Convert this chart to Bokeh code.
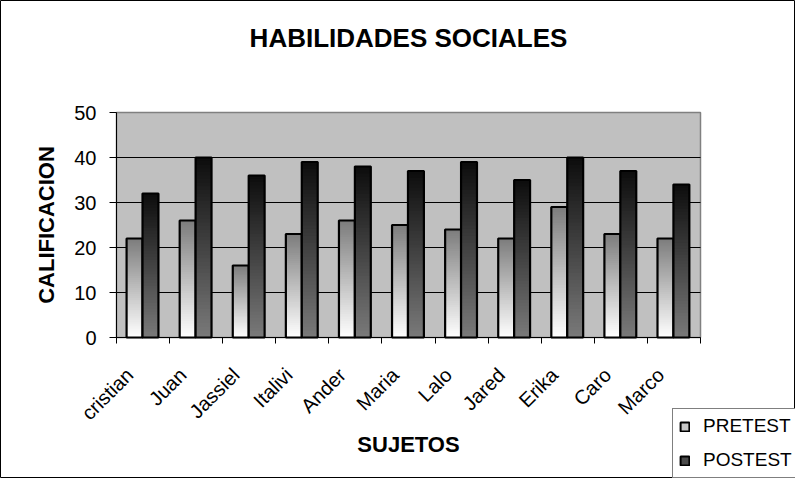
import math
from bokeh.plotting import figure
from bokeh.models import Range1d, FixedTicker, Legend, LegendItem, Label
from bokeh.embed import file_html
from bokeh.resources import INLINE

subjects = ["cristian", "Juan", "Jassiel", "Italivi", "Ander", "Maria", "Lalo",
            "Jared", "Erika", "Caro", "Marco"]
pretest = [22, 26, 16, 23, 26, 25, 24, 22, 29, 23, 22]
postest = [32, 40, 36, 39, 38, 37, 39, 35, 40, 37, 34]
yticks = [0, 10, 20, 30, 40, 50]
series_names = ["PRETEST", "POSTEST"]
title_text = "HABILIDADES SOCIALES"
xlabel = "SUJETOS"
ylabel = "CALIFICACION"

FONT = "Liberation Sans"

# layout (pixels inside the 795x478 canvas)
W, H = 795, 478
FL, FR, FT, FB = 116, 700, 112, 337   # plot-area box in canvas pixels
ncat = len(subjects)
ymax = yticks[-1]
sx = (FR - FL) / ncat
sy = (FB - FT) / ymax
x_range = Range1d(-FL / sx, ncat + (W - FR) / sx)
y_range = Range1d(-(H - FB) / sy, ymax + FT / sy)
label_shift = 0.25  # rotated labels end a little left of the category centre


def mix(c1, c2, t):
    a = [int(c1[i:i + 2], 16) for i in (1, 3, 5)]
    b = [int(c2[i:i + 2], 16) for i in (1, 3, 5)]
    return "#%02x%02x%02x" % tuple(round(a[k] + (b[k] - a[k]) * t) for k in range(3))


p = figure(width=W, height=H, output_backend="svg", toolbar_location=None,
           x_range=x_range, y_range=y_range, min_border=0)
p.background_fill_color = "white"
p.border_fill_color = "white"
p.outline_line_color = "black"
p.outline_line_width = 1
p.grid.visible = False

# plot area
p.quad(left=[0], right=[ncat], bottom=[0], top=[ymax], fill_color="#c0c0c0",
       line_color="#808080", line_width=1.5)
gl = yticks[1:-1]
p.segment(x0=[0] * len(gl), x1=[ncat] * len(gl), y0=gl, y1=gl,
          line_color="black", line_width=1)

# gradient bars
N = 50
specs = [
    (pretest, 0.19, 0.49, "#ffffff", "#7c7c7c"),
    (postest, 0.49, 0.79, "#7a7a7a", "#0c0c0c"),
]
for vals, lo, hi, cbot, ctop in specs:
    L, R, B, T, C = [], [], [], [], []
    for k in range(N):
        for i, v in enumerate(vals):
            L.append(i + lo)
            R.append(i + hi)
            B.append(v * k / N)
            T.append(v)
            C.append(mix(cbot, ctop, (k + 0.5) / N))
    p.quad(left=L, right=R, bottom=B, top=T, fill_color=C, line_color=None)
    p.quad(left=[i + lo for i in range(ncat)], right=[i + hi for i in range(ncat)],
           bottom=[0] * ncat, top=vals, fill_color=None, line_color="black",
           line_width=2.2)

# axes
p.yaxis.fixed_location = 0
p.yaxis.bounds = (0, ymax)
p.yaxis.ticker = FixedTicker(ticks=yticks)
p.yaxis.axis_line_color = "black"
p.yaxis.major_tick_out = 7
p.yaxis.major_tick_in = 0
p.yaxis.minor_tick_line_color = None
p.yaxis.major_label_standoff = 13
p.yaxis.major_label_text_font = FONT
p.yaxis.major_label_text_font_size = "20px"
p.yaxis.major_label_text_color = "black"
p.yaxis.axis_label = ylabel
p.yaxis.axis_label_text_font = FONT
p.yaxis.axis_label_text_font_size = "22px"
p.yaxis.axis_label_text_font_style = "bold"
p.yaxis.axis_label_text_color = "black"
p.yaxis.axis_label_standoff = 12

centers = [i + 0.5 - label_shift for i in range(ncat)]
p.xaxis.fixed_location = 0
p.xaxis.bounds = (0, ncat)
p.xaxis.ticker = FixedTicker(ticks=centers, minor_ticks=list(range(ncat + 1)))
p.xaxis.major_label_overrides = {c: s for c, s in zip(centers, subjects)}
p.xaxis.major_tick_out = 0
p.xaxis.major_tick_in = 0
p.xaxis.minor_tick_out = 6
p.xaxis.minor_tick_in = 0
p.xaxis.minor_tick_line_color = "black"
p.xaxis.axis_line_color = "black"
p.xaxis.major_label_orientation = math.pi / 4
p.xaxis.major_label_standoff = 28
p.xaxis.major_label_text_font = FONT
p.xaxis.major_label_text_font_size = "20px"
p.xaxis.major_label_text_color = "black"
p.xaxis.axis_label = xlabel
p.xaxis.axis_label_text_font = FONT
p.xaxis.axis_label_text_font_size = "22px"
p.xaxis.axis_label_text_font_style = "bold"
p.xaxis.axis_label_text_color = "black"
p.xaxis.axis_label_standoff = -3

# title
p.add_layout(Label(x=ncat / 2, y=H - 37, x_units="data", y_units="screen",
                   text=title_text, text_align="center", text_baseline="middle",
                   text_font=FONT, text_font_size="26px", text_font_style="bold",
                   text_color="black"))

# legend swatches (renderers with no visible geometry)
nan = float("nan")
r1 = p.quad(left=[nan], right=[nan], bottom=[nan], top=[nan],
            fill_color="#c8c8c8", line_color="black", line_width=2)
r2 = p.quad(left=[nan], right=[nan], bottom=[nan], top=[nan],
            fill_color="#4a4a4a", line_color="black", line_width=2)
legend = Legend(items=[LegendItem(label=series_names[0], renderers=[r1]),
                       LegendItem(label=series_names[1], renderers=[r2])],
                location=(672, 0), orientation="vertical",
                label_text_font=FONT, label_text_font_size="19px",
                label_text_color="black",
                glyph_width=11, glyph_height=11, label_height=22,
                label_standoff=13, spacing=12, padding=6, margin=0,
                border_line_color="black", border_line_width=1,
                background_fill_color="white", background_fill_alpha=1)
p.add_layout(legend, "center")

open("out.html", "w").write(file_html(p, INLINE))
